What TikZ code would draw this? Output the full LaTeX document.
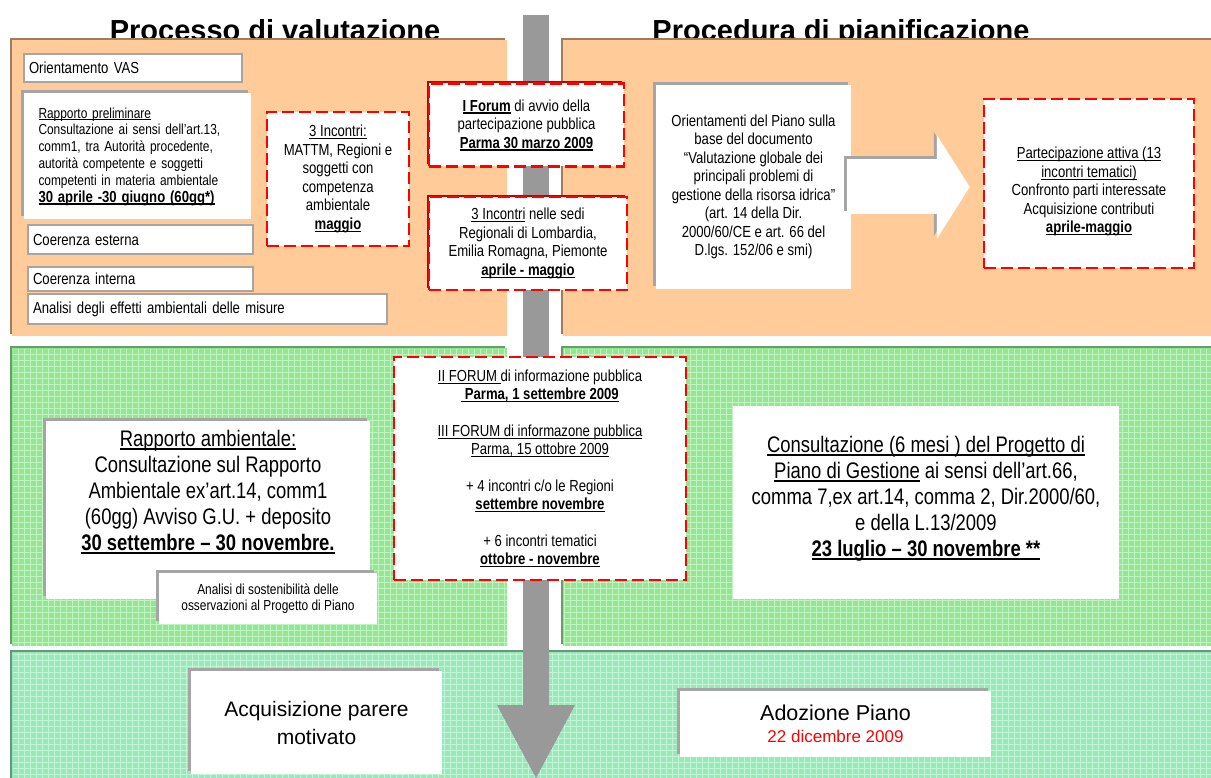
\documentclass[tikz,border=0pt]{standalone}
\usepackage{fontspec}
\setmainfont{Liberation Sans}[FakeStretch=0.82]
\newfontfamily\widefont{Liberation Sans}
\usepackage{xcolor}
\usepackage{tikz}
\usetikzlibrary{arrows.meta,calc,shadows}

\definecolor{orangeband}{RGB}{255,204,153}
\definecolor{orangeedge}{RGB}{160,124,94}
\definecolor{greenband}{RGB}{146,232,146}
\definecolor{greenedge}{RGB}{104,156,104}
\definecolor{mintband}{RGB}{150,234,184}
\definecolor{mintedge}{RGB}{104,150,124}
\definecolor{shaftgray}{RGB}{153,153,153}
\definecolor{boxgray}{RGB}{165,165,165}
\definecolor{darkred}{RGB}{190,0,0}

% underline with a rule that follows the font size
\newcommand{\undl}[1]{\setbox0\hbox{#1}\rlap{\raisebox{-0.16em}{\rule{\wd0}{0.07em}}}\box0\relax}

\begin{document}
\begin{tikzpicture}[
  x=1pt, y=-1pt,
  every node/.style={inner sep=0pt, align=center},
  txtS/.style={font=\fontsize{14.5}{16.8}\selectfont},
  txtM/.style={font=\fontsize{16}{18.5}\selectfont},
  txtL/.style={font=\fontsize{22.5}{26}\selectfont},
  tagbox/.style={fill=white, draw=boxgray, line width=2pt, align=left, txtM, inner xsep=5pt},
  card/.style={fill=white, drop shadow={shadow xshift=-3pt, shadow yshift=3pt, fill=boxgray, opacity=1}},
  redbox/.style={fill=white, draw=red, line width=2.5pt, dash pattern=on 12pt off 5pt},
  forumbox/.style={redbox, drop shadow={shadow xshift=-2pt, shadow yshift=2pt, fill=darkred, opacity=1}},
  bandshade/.style={drop shadow={shadow xshift=-2.5pt, shadow yshift=2.5pt, fill=#1, opacity=1}},
  weave/.style={draw=#1, line width=0.8pt},
  headline/.style={anchor=base, font=\widefont\bfseries\fontsize{29}{32}\selectfont},
]
\useasboundingbox (0,0) rectangle (1211,778);

%% ── titles ───────────────────────────────────────────────────────────────
\node[headline] (titleL) at (275,41) {Processo di valutazione};
\node[headline] (titleR) at (841,41) {Procedura di pianificazione};

%% ── bands ────────────────────────────────────────────────────────────────
\path[fill=orangeband, bandshade=orangeedge] (12,40.5) rectangle (507,336);
\path[fill=orangeband, bandshade=orangeedge] (563,40.5) rectangle (1213,336);
\path[fill=greenband, bandshade=greenedge] (12,348) rectangle (507,646);
\path[fill=greenband, bandshade=greenedge] (563,348) rectangle (1213,646);
\path[fill=mintband, bandshade=mintedge] (12,652) rectangle (1213,780);
% woven texture of the green bands
\draw[weave=greenband!55!white, step=6pt] (12.5,348.5) grid (506.5,645.5);
\draw[weave=greenband!55!white, step=6pt] (563.5,348.5) grid (1211,645.5);
\draw[weave=mintband!55!white, step=6pt] (12.5,652.5) grid (1211,778);

%% ── time axis ────────────────────────────────────────────────────────────
\coordinate (flowtop) at (536,15);
\coordinate (flowend) at (536,778);
\draw[shaftgray, line width=26pt, -{Triangle[width=78pt,length=73pt,line width=0pt]}] (flowtop) -- (flowend);

%% ── Processo di valutazione (top left) ───────────────────────────────────
\node[tagbox, text width=208pt, minimum height=28pt] (vas) at (133,68) {Orientamento VAS};
\node[card, txtS, text width=198pt, minimum width=227pt, minimum height=126pt, align=left] (rprel) at (137.5,156.5) {%
  \undl{Rapporto preliminare}\\
  \makebox[198pt][s]{Consultazione ai sensi dell’art.13,}\\
  \makebox[198pt][s]{comm1, tra Autorità procedente,}\\
  \makebox[198pt][s]{autorità competente e soggetti}\\
  competenti in materia ambientale\\
  {\fontsize{16}{18}\selectfont\textbf{\undl{30 aprile -30 giugno  (60gg*)}}}};
\node[tagbox, text width=215pt, minimum height=29pt] (coerest) at (140.5,239.5) {Coerenza esterna};
\node[tagbox, text width=215pt, minimum height=24pt] (coerint) at (140.5,279) {Coerenza interna};
\node[tagbox, text width=349pt, minimum height=30pt] (effetti) at (207.5,309) {Analisi degli effetti ambientali  delle misure};
\node[redbox, txtM, minimum width=142pt, minimum height=134pt] (incontriA) at (338,179) {%
  \undl{3 Incontri:}\\ MATTM, Regioni e\\ soggetti con\\ competenza\\ ambientale\\ \textbf{\undl{maggio}}};

%% ── forum on the axis ────────────────────────────────────────────────────
\node[forumbox, txtM, minimum width=195pt, minimum height=83pt] (forumA) at (526.5,125) {%
  \textbf{\undl{I Forum}} di avvio della\\ partecipazione pubblica\\ \textbf{\undl{Parma  30 marzo 2009}}};
\node[forumbox, txtM, minimum width=198pt, minimum height=93pt] (sedi) at (528,243.5) {%
  \undl{3 Incontri} nelle sedi\\ Regionali di Lombardia,\\ Emilia Romagna, Piemonte\\ \textbf{\undl{aprile - maggio}}};

%% ── Procedura di pianificazione (top right) ──────────────────────────────
\node[card, txtM, minimum width=195pt, minimum height=204pt] (orient) at (753.5,187) {%
  Orientamenti del Piano sulla\\ base del documento\\ “Valutazione globale dei\\ principali problemi di\\
  gestione della risorsa idrica”\\ (art. 14 della Dir.\\ 2000/60/CE e art. 66 del\\ D.lgs. 152/06 e smi)};
\node[redbox, minimum width=210pt, minimum height=169pt] (partec) at (1089,183.5) {};
\node[txtM] (partectxt) at (1089,191.5) {%
  \undl{Partecipazione attiva (13}\\ \undl{incontri tematici)}\\ Confronto parti interessate\\
  Acquisizione  contributi\\ \textbf{\undl{aprile-maggio}}};
\draw[boxgray, line width=55pt, -{Triangle[width=104pt,length=33pt,line width=0pt]},
  transform canvas={xshift=-3pt, yshift=3pt}]
  ($(orient.east)+(-4,0)$) -- ($(orient.east -| partec.west)+(-13,0)$);
\draw[white, line width=55pt, -{Triangle[width=104pt,length=33pt,line width=0pt]}]
  ($(orient.east)+(-4,0)$) -- ($(orient.east -| partec.west)+(-13,0)$);

%% ── consultazione (middle row) ───────────────────────────────────────────
\node[card, minimum width=324pt, minimum height=178pt] (rambient) at (208,510) {};
\node[txtL] (rambtxt) at (208,492) {%
  \undl{Rapporto ambientale:}\\ Consultazione sul Rapporto\\ Ambientale ex’art.14, comm1\\
  (60gg) Avviso G.U. + deposito\\ \textbf{\undl{30 settembre – 30 novembre.}}};
\node[card, font=\fontsize{14.5}{16}\selectfont, minimum width=218pt, minimum height=51pt] (sosten) at (268,598.5) {%
  Analisi di sostenibilità delle\\ osservazioni al Progetto di Piano};
\node[redbox, txtM, minimum width=292pt, minimum height=223pt] (forumB) at (540,468.5) {%
  \undl{II FORUM }di informazione pubblica\\
  \textbf{\undl{ Parma, 1 settembre 2009}}\\[18pt]
  \undl{III FORUM  di informazone pubblica}\\
  \undl{Parma, 15 ottobre  2009}\\[18pt]
  + 4 incontri c/o le Regioni\\
  \textbf{\undl{settembre novembre}}\\[18pt]
  + 6 incontri tematici\\
  \textbf{\undl{ottobre - novembre}}};
\node[fill=white, minimum width=386pt, minimum height=193pt] (consult) at (926,502.5) {};
\node[txtL] (consulttxt) at (926,498.5) {%
  \undl{Consultazione (6 mesi ) del Progetto di}\\
  \undl{Piano di Gestione} ai sensi dell’art.66,\\
  comma 7,ex art.14, comma 2, Dir.2000/60,\\
  e della L.13/2009\\
  \textbf{\undl{23 luglio – 30 novembre **}}};

%% ── conclusione (bottom row) ─────────────────────────────────────────────
\node[card, font=\widefont\fontsize{21}{28}\selectfont, minimum width=251pt, minimum height=103pt] (parere) at (316.5,722.5) {%
  Acquisizione parere\\ motivato};
\node[card, font=\widefont\fontsize{17}{22}\selectfont, minimum width=311pt, minimum height=66pt] (adozione) at (835.5,724) {%
  {\fontsize{21.5}{22}\selectfont Adozione Piano}\\
  \textcolor{red}{22 dicembre 2009}};

\end{tikzpicture}
\end{document}
